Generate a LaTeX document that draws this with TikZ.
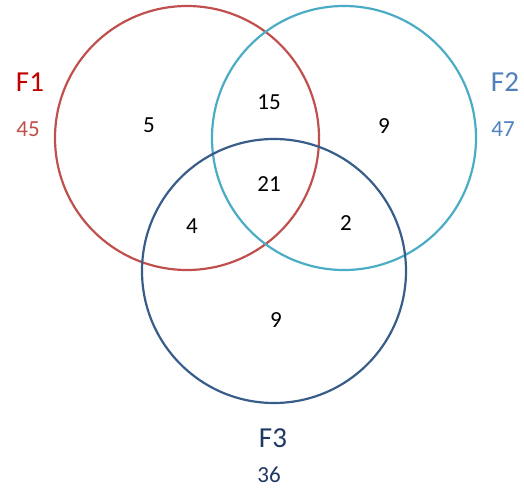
\documentclass[tikz,border=0pt]{standalone}
\usepackage{fontspec}
\setmainfont{Carlito}
\definecolor{cred}{HTML}{C0504D}
\definecolor{tred}{HTML}{C00000}
\definecolor{ccyan}{HTML}{4BACC6}
\definecolor{tblue}{HTML}{4F81BD}
\definecolor{cnavy}{HTML}{385D8A}
\definecolor{tnavy}{HTML}{1F3864}
\begin{document}
\begin{tikzpicture}[x=1pt,y=-1pt,
  ring/.style={draw,line width=2.2pt,circle,minimum size=264pt,inner sep=0pt},
  num/.style={font=\fontsize{23}{23}\selectfont,text=black},
  setname/.style={font=\fontsize{29}{29}\selectfont},
  setcount/.style={font=\fontsize{23}{23}\selectfont}]
\useasboundingbox (0,0) rectangle (524,487);
\node[ring,cred] (c1) at (187,138) {};
\node[ring,ccyan] (c2) at (344,138) {};
\node[ring,cnavy] (c3) at (274,271) {};
\node[num] (n5) at (149,125) {5};
\node[num] (n15) at (269,102) {15};
\node[num] (n9a) at (384,126) {9};
\node[num] (n21) at (269,184) {21};
\node[num] (n4) at (192,226) {4};
\node[num] (n2) at (346,223) {2};
\node[num] (n9b) at (276,320) {9};
\node[setname,text=tred] (f1) at (30,82) {F1};
\node[setcount,text=cred] (f1n) at (28,129) {45};
\node[setname,text=tblue] (f2) at (505,82) {F2};
\node[setcount,text=tblue] (f2n) at (503,129) {47};
\node[setname,text=tnavy] (f3) at (273,438) {F3};
\node[setcount,text=tnavy] (f3n) at (269,475) {36};
\end{tikzpicture}
\end{document}
